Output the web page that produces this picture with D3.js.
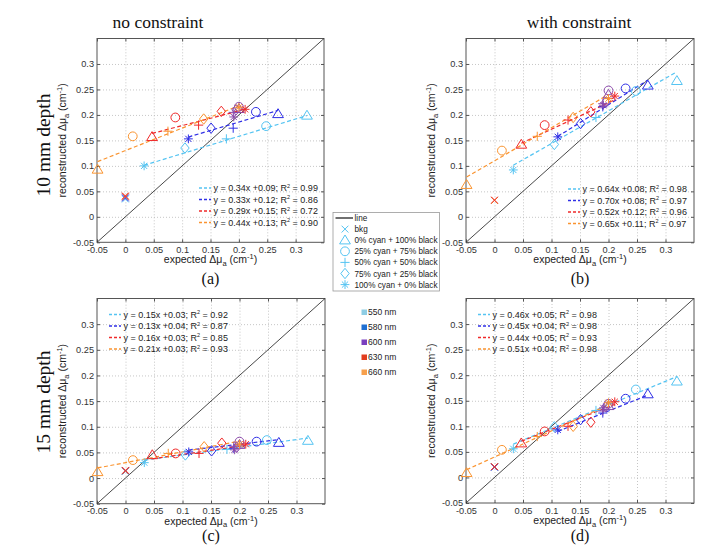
<!DOCTYPE html>
<html><head><meta charset="utf-8">
<script src="https://cdn.jsdelivr.net/npm/d3@7"></script>
<style>body{margin:0;background:#fff}</style>
</head><body>
<svg id="c" width="726" height="551" xmlns="http://www.w3.org/2000/svg"></svg>
<script>
// ---------- DATA ----------
const tickValues = [-0.05, 0, 0.05, 0.1, 0.15, 0.2, 0.25, 0.3];
const tickLabels = ["-0.05", "0", "0.05", "0.1", "0.15", "0.2", "0.25", "0.3"];
const wavelengths = ["550 nm", "580 nm", "600 nm", "630 nm", "660 nm"];
const phantoms = ["bkg", "0% cyan + 100% black", "25% cyan + 75% black", "50% cyan + 50% black", "75% cyan + 25% black", "100% cyan + 0% black"];
const columnTitles = ["no constraint", "with constraint"];
const rowTitles = ["10 mm depth", "15 mm depth"];
const panelLabels = ["(a)", "(b)", "(c)", "(d)"];

// expected Δμa per wavelength, order of phantoms
const expected550 = [0, 0.320, 0.248, 0.178, 0.105, 0.033];
const expected580 = [0, 0.269, 0.230, 0.190, 0.151, 0.111];
const expected600 = [0, 0.200, 0.200, 0.190, 0.195, 0.191];
const expected630 = [0, 0.047, 0.088, 0.129, 0.169, 0.211];
const expected660 = [0, -0.049, 0.013, 0.075, 0.138, 0.200];

// reconstructed Δμa, panel (a)
const recA550 = [0.035, 0.199, 0.178, 0.153, 0.135, 0.100];
const recA580 = [0.037, 0.202, 0.206, 0.174, 0.174, 0.153];
const recA600 = [0.039, 0.212, 0.216, 0.205, 0.210, 0.196];
const recA630 = [0.041, 0.157, 0.195, 0.180, 0.207, 0.211];
const recA660 = [0.040, 0.093, 0.158, 0.168, 0.192, 0.215];
// panel (b)
const recB550 = [0.032, 0.267, 0.247, 0.195, 0.142, 0.092];
const recB580 = [0.032, 0.258, 0.252, 0.216, 0.183, 0.157];
const recB600 = [0.032, 0.240, 0.248, 0.222, 0.225, 0.219];
const recB630 = [0.033, 0.142, 0.180, 0.190, 0.206, 0.237];
const recB660 = [0.032, 0.063, 0.130, 0.158, 0.195, 0.232];
// panel (c)
const recC550 = [0.013, 0.073, 0.074, 0.056, 0.045, 0.030];
const recC580 = [0.014, 0.069, 0.071, 0.058, 0.053, 0.051];
const recC600 = [0.014, 0.065, 0.071, 0.062, 0.060, 0.055];
const recC630 = [0.015, 0.045, 0.048, 0.048, 0.068, 0.066];
const recC660 = [0.014, 0.012, 0.035, 0.048, 0.061, 0.066];
// panel (d)
const recD550 = [0.020, 0.188, 0.172, 0.131, 0.099, 0.056];
const recD580 = [0.020, 0.163, 0.154, 0.126, 0.113, 0.093];
const recD600 = [0.021, 0.140, 0.144, 0.130, 0.138, 0.136];
const recD630 = [0.021, 0.067, 0.090, 0.100, 0.108, 0.148];
const recD660 = [0.021, 0.009, 0.054, 0.080, 0.100, 0.146];

// linear fits (550, 580, 630, 660 nm)
const fitWavelengthIndex = [0, 1, 3, 4];
const slopesA = [0.34, 0.33, 0.29, 0.44], interceptsA = [0.09, 0.12, 0.15, 0.13], r2A = ["0.99", "0.86", "0.72", "0.90"];
const slopesB = [0.64, 0.70, 0.52, 0.65], interceptsB = [0.08, 0.08, 0.12, 0.11], r2B = ["0.98", "0.97", "0.96", "0.97"];
const slopesC = [0.15, 0.13, 0.16, 0.21], interceptsC = [0.03, 0.04, 0.03, 0.03], r2C = ["0.92", "0.87", "0.85", "0.93"];
const slopesD = [0.46, 0.45, 0.44, 0.51], interceptsD = [0.05, 0.04, 0.05, 0.04], r2D = ["0.98", "0.98", "0.93", "0.98"];

// ---------- STYLE ----------
const seriesColors = ["#55c4f2", "#2f2fe6", "#8b4aab", "#f02a2a", "#fa9430"];
const legendSquareColors = ["#8ecde4", "#1e6fd2", "#7a3fbf", "#e23c1e", "#f7a04d"];
const markerTypes = ["x", "triangle", "circle", "plus", "diamond", "asterisk"];

const expectedAll = [expected550, expected580, expected600, expected630, expected660];
const panels = [
  {l: 97, r: 324, t: 38.5, b: 242.3, rec: [recA550, recA580, recA600, recA630, recA660], m: slopesA, c: interceptsA, r2: r2A,
   legX: 199, legY: 188, lab: panelLabels[0], labY: 284},
  {l: 466, r: 694, t: 38.5, b: 242.3, rec: [recB550, recB580, recB600, recB630, recB660], m: slopesB, c: interceptsB, r2: r2B,
   legX: 568, legY: 189, lab: panelLabels[1], labY: 284},
  {l: 97, r: 325, t: 298.5, b: 503.7, rec: [recC550, recC580, recC600, recC630, recC660], m: slopesC, c: interceptsC, r2: r2C,
   legX: 109, legY: 314.5, lab: panelLabels[2], labY: 541},
  {l: 466, r: 694, t: 298.5, b: 503, rec: [recD550, recD580, recD600, recD630, recD660], m: slopesD, c: interceptsD, r2: r2D,
   legX: 478, legY: 314.5, lab: panelLabels[3], labY: 541}
];

const svg = d3.select("#c");
svg.append("rect").attr("width", 726).attr("height", 551).attr("fill", "#fff");

function markerPath(type) {
  const p = d3.path();
  if (type === "x") { const s = 3.4; p.moveTo(-s, -s); p.lineTo(s, s); p.moveTo(-s, s); p.lineTo(s, -s); }
  else if (type === "triangle") { p.moveTo(0, -5.2); p.lineTo(5.4, 3.7); p.lineTo(-5.4, 3.7); p.closePath(); }
  else if (type === "circle") { p.moveTo(4.4, 0); p.arc(0, 0, 4.4, 0, 2 * Math.PI); }
  else if (type === "plus") { const s = 4.6; p.moveTo(-s, 0); p.lineTo(s, 0); p.moveTo(0, -s); p.lineTo(0, s); }
  else if (type === "diamond") { p.moveTo(0, -5.2); p.lineTo(4.2, 0); p.lineTo(0, 5.2); p.lineTo(-4.2, 0); p.closePath(); }
  else if (type === "asterisk") { const s = 4.4, d = 3.1; p.moveTo(-s, 0); p.lineTo(s, 0); p.moveTo(0, -s); p.lineTo(0, s);
    p.moveTo(-d, -d); p.lineTo(d, d); p.moveTo(-d, d); p.lineTo(d, -d); }
  return p.toString();
}

function drawPanel(P) {
  const x = d3.scaleLinear().domain([-0.05, 0.35]).range([P.l, P.r]);
  const y = d3.scaleLinear().domain([-0.05, 0.35]).range([P.b, P.t]);
  const g = svg.append("g");
  const h = P.b - P.t, w = P.r - P.l;
  const gridVals = tickValues.filter(v => v > -0.05);

  // grid
  const gx = g.append("g").attr("transform", `translate(0,${P.b})`)
    .call(d3.axisBottom(x).tickValues(gridVals).tickSize(-h).tickFormat(""));
  const gy = g.append("g").attr("transform", `translate(${P.l},0)`)
    .call(d3.axisLeft(y).tickValues(gridVals).tickSize(-w).tickFormat(""));
  [gx, gy].forEach(a => { a.select(".domain").remove();
    a.selectAll("line").attr("stroke", "#b8b8b8").attr("stroke-dasharray", "1,2").attr("stroke-width", 0.8); });

  // axes with tick labels (inward ticks)
  const ax = g.append("g").attr("transform", `translate(0,${P.b})`)
    .call(d3.axisBottom(x).tickValues(tickValues).tickSize(-3).tickPadding(4).tickFormat((d, i) => tickLabels[i]));
  const ay = g.append("g").attr("transform", `translate(${P.l},0)`)
    .call(d3.axisLeft(y).tickValues(tickValues).tickSize(-3).tickPadding(3).tickFormat((d, i) => tickLabels[i]));
  const at = g.append("g").attr("transform", `translate(0,${P.t})`)
    .call(d3.axisTop(x).tickValues(tickValues).tickSize(-3).tickFormat(""));
  const ar = g.append("g").attr("transform", `translate(${P.r},0)`)
    .call(d3.axisRight(y).tickValues(tickValues).tickSize(-3).tickFormat(""));
  [ax, ay, at, ar].forEach(a => { a.select(".domain").remove();
    a.selectAll("line").attr("stroke", "#555");
    a.selectAll("text").attr("font-family", "Liberation Sans, Arial, sans-serif").attr("font-size", 9.2).attr("fill", "#333"); });

  g.append("rect").attr("x", P.l).attr("y", P.t).attr("width", w).attr("height", h)
    .attr("fill", "none").attr("stroke", "#555").attr("stroke-width", 1);

  // identity line
  g.append("line").attr("x1", x(-0.05)).attr("y1", y(-0.05)).attr("x2", x(0.35)).attr("y2", y(0.35))
    .attr("stroke", "#333").attr("stroke-width", 0.9);

  // fit lines
  fitWavelengthIndex.forEach((wi, k) => {
    const ext = d3.extent(expectedAll[wi].slice(1));
    g.append("line")
      .attr("x1", x(ext[0])).attr("y1", y(P.m[k] * ext[0] + P.c[k]))
      .attr("x2", x(ext[1])).attr("y2", y(P.m[k] * ext[1] + P.c[k]))
      .attr("stroke", seriesColors[wi]).attr("stroke-width", 1.2).attr("stroke-dasharray", "4,2.5");
  });

  // markers
  [0, 1, 2, 4, 3].forEach(wi => {
    expectedAll[wi].forEach((ev, j) => {
      g.append("path").attr("d", markerPath(markerTypes[j]))
        .attr("transform", `translate(${x(ev)},${y(P.rec[wi][j])})`)
        .attr("fill", "none").attr("stroke", seriesColors[wi]).attr("stroke-width", 1);
    });
  });

  // fit legend
  fitWavelengthIndex.forEach((wi, k) => {
    const yy = P.legY + k * 11.5;
    g.append("line").attr("x1", P.legX).attr("x2", P.legX + 12).attr("y1", yy).attr("y2", yy)
      .attr("stroke", seriesColors[wi]).attr("stroke-width", 1.3).attr("stroke-dasharray", "3,2");
    const t = g.append("text").attr("x", P.legX + 14.5).attr("y", yy + 3.2)
      .attr("font-family", "Liberation Sans, Arial, sans-serif").attr("font-size", 9).attr("fill", "#222");
    t.append("tspan").text(`y = ${P.m[k].toFixed(2)}x +${P.c[k].toFixed(2)}; R`);
    t.append("tspan").text("2").attr("font-size", 5.5).attr("dy", -3.5);
    t.append("tspan").text(` = ${P.r2[k]}`).attr("dy", 3.5);
  });

  // axis labels
  const xl = g.append("text").attr("x", (P.l + P.r) / 2).attr("y", P.b + 21).attr("text-anchor", "middle")
    .attr("font-family", "Liberation Sans, Arial, sans-serif").attr("font-size", 10.5).attr("fill", "#222");
  xl.append("tspan").text("expected Δμ");
  xl.append("tspan").text("a").attr("font-size", 7.5).attr("dy", 2.5);
  xl.append("tspan").text(" (cm").attr("dy", -2.5);
  xl.append("tspan").text("-1").attr("font-size", 7.5).attr("dy", -4);
  xl.append("tspan").text(")").attr("dy", 4);

  const yl = g.append("text").attr("transform", `translate(${P.l - 31},${(P.t + P.b) / 2}) rotate(-90)`)
    .attr("text-anchor", "middle")
    .attr("font-family", "Liberation Sans, Arial, sans-serif").attr("font-size", 10.5).attr("fill", "#222");
  yl.append("tspan").text("reconstructed Δμ");
  yl.append("tspan").text("a").attr("font-size", 7.5).attr("dy", 2.5);
  yl.append("tspan").text(" (cm").attr("dy", -2.5);
  yl.append("tspan").text("-1").attr("font-size", 7.5).attr("dy", -4);
  yl.append("tspan").text(")").attr("dy", 4);

  g.append("text").attr("x", (P.l + P.r) / 2).attr("y", P.labY).attr("text-anchor", "middle")
    .attr("font-family", "Liberation Serif, Times New Roman, serif").attr("font-size", 16).attr("fill", "#111").text(P.lab);
}

panels.forEach(drawPanel);

// column / row titles
const serif = "Liberation Serif, Times New Roman, serif";
svg.append("text").attr("x", 158).attr("y", 28).attr("text-anchor", "middle").attr("font-family", serif)
  .attr("font-size", 17.5).attr("fill", "#111").text(columnTitles[0]);
svg.append("text").attr("x", 579).attr("y", 28).attr("text-anchor", "middle").attr("font-family", serif)
  .attr("font-size", 17.5).attr("fill", "#111").text(columnTitles[1]);
svg.append("text").attr("transform", "translate(50,145) rotate(-90)").attr("text-anchor", "middle").attr("font-family", serif)
  .attr("font-size", 19.5).attr("fill", "#111").text(rowTitles[0]);
svg.append("text").attr("transform", "translate(50,402) rotate(-90)").attr("text-anchor", "middle").attr("font-family", serif)
  .attr("font-size", 19.5).attr("fill", "#111").text(rowTitles[1]);

// marker legend box
const sans = "Liberation Sans, Arial, sans-serif";
const lg = svg.append("g");
lg.append("rect").attr("x", 333).attr("y", 212.5).attr("width", 106.5).attr("height", 78.5)
  .attr("fill", "#fff").attr("stroke", "#999").attr("stroke-width", 0.8);
const legRowY = i => 218 + i * 11.1;
lg.append("line").attr("x1", 335.5).attr("x2", 353).attr("y1", legRowY(0)).attr("y2", legRowY(0)).attr("stroke", "#111").attr("stroke-width", 1.2);
lg.append("text").attr("x", 354.5).attr("y", legRowY(0) + 3).attr("font-family", sans).attr("font-size", 8.2).attr("fill", "#222").text("line");
phantoms.forEach((ph, j) => {
  const yy = legRowY(j + 1);
  lg.append("path").attr("d", markerPath(markerTypes[j])).attr("transform", `translate(345,${yy})`)
    .attr("fill", "none").attr("stroke", seriesColors[0]).attr("stroke-width", 1);
  lg.append("text").attr("x", 354.5).attr("y", yy + 3).attr("font-family", sans).attr("font-size", 8.2).attr("fill", "#222").text(ph);
});

// wavelength legend
wavelengths.forEach((wl, i) => {
  const yy = 312.3 + i * 15;
  svg.append("rect").attr("x", 361.5).attr("y", yy - 2.8).attr("width", 5.5).attr("height", 5.5).attr("fill", legendSquareColors[i]);
  svg.append("text").attr("x", 368).attr("y", yy + 3).attr("font-family", sans).attr("font-size", 8.5).attr("fill", "#222").text(wl);
});
</script>
</body></html>
